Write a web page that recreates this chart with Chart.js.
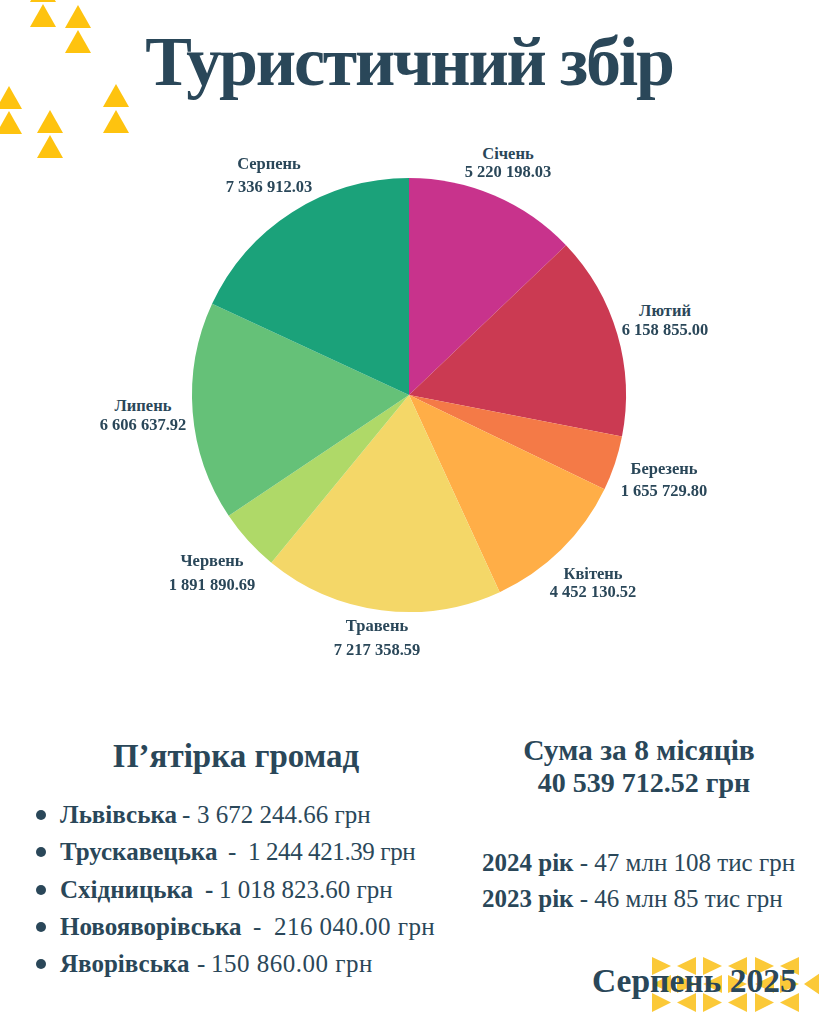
<!DOCTYPE html>
<html lang="uk">
<head>
<meta charset="utf-8">
<script src="https://cdn.jsdelivr.net/npm/chart.js@4"></script>
<style>
  html, body { margin: 0; padding: 0; background: #fff; }
  #page { position: relative; width: 819px; height: 1024px; overflow: hidden; color: #2a4759; font-family: "Liberation Serif", serif; }
  #chart-box { position: absolute; left: 179px; top: 165px; width: 460px; height: 460px; }
  .txt { position: absolute; white-space: pre; }
  .c { transform: translateX(-50%); text-align: center; }
  .lbl { font-size: 16.5px; font-weight: bold; line-height: 20px; }
  b { font-weight: bold; }
  .tri { position: absolute; background: #fec30f; }
</style>
</head>
<body>
<div id="page">
  <div id="decor"></div>
  <div class="txt c" style="left:409px;top:22px;font-size:70px;font-weight:bold;line-height:80px;letter-spacing:-2.2px">Туристичний збір</div>
  <div id="chart-box"><canvas id="canvas"></canvas></div>
  <div id="labels"></div>
  <div class="txt c" style="left:236px;top:737px;font-size:33px;font-weight:bold;line-height:38px">П’ятірка громад</div>
  <div class="txt c" style="left:639px;top:733px;font-size:29.5px;font-weight:bold;line-height:34px">Сума за 8 місяців</div>
  <div class="txt c" style="left:644px;top:766px;font-size:28px;font-weight:bold;line-height:34px">40 539 712.52 грн</div>
  <div id="towns"></div>
  <div id="years"></div>
  <div class="txt" style="left:592px;top:961px;font-size:33.5px;font-weight:bold;line-height:40px">Серпень 2025</div>
</div>
<script>
const months = ["Січень", "Лютий", "Березень", "Квітень", "Травень", "Червень", "Липень", "Серпень"]
const amounts = [5220198.03, 6158855.00, 1655729.80, 4452130.52, 7217358.59, 1891890.69, 6606637.92, 7336912.03]
const amountLabels = ["5 220 198.03", "6 158 855.00", "1 655 729.80", "4 452 130.52", "7 217 358.59", "1 891 890.69", "6 606 637.92", "7 336 912.03"]
const sliceColors = ["#c8338c", "#cb3a52", "#f47a47", "#ffae47", "#f4d768", "#afd968", "#65c178", "#1ba27a"]

const towns = ["Львівська", "Трускавецька", "Східницька", "Новояворівська", "Яворівська"]
const townDashes = ["-", "-", "-", "-", "-"]
const townValues = ["3 672 244.66 грн", "1 244 421.39 грн", "1 018 823.60 грн", "216 040.00 грн", "150 860.00 грн"]
const years = ["2024 рік", "2023 рік"]
const yearValues = ["- 47 млн 108 тис грн", "- 46 млн 85 тис грн"]

// centre x, y of first and second caption line
const labelSpots = [[508, 154, 172], [665, 311, 330], [664, 469, 491], [593, 574, 592], [377, 626, 650], [212, 561, 585], [143, 406, 425], [269, 164, 187]]
// x of dash, x of value, letter spacing of value
const townSpots = [[182, 197, 0], [228, 248, -0.4], [205, 219, 0], [253, 274, 0.45], [197, 211, 0.5]]
const upTriangles = [[30, -21], [30, 4], [65, 5], [65, 30], [-4, 86], [-4, 111], [37, 110], [37, 135], [103, 84], [103, 110]]

const labelsBox = document.getElementById("labels")
function addLabelLine(text, x, y) {
  const el = document.createElement("div")
  el.className = "txt c lbl"
  el.style.left = x + "px"
  el.style.top = (y - 10) + "px"
  el.textContent = text
  labelsBox.appendChild(el)
}
months.forEach((m, i) => {
  addLabelLine(m, labelSpots[i][0], labelSpots[i][1])
  addLabelLine(amountLabels[i], labelSpots[i][0], labelSpots[i][2])
})

const townsBox = document.getElementById("towns")
function addTownText(html, x, y, extra) {
  const el = document.createElement("div")
  el.className = "txt"
  el.style.cssText = `left:${x}px;top:${y}px;font-size:25px;line-height:32px;${extra}`
  el.innerHTML = html
  townsBox.appendChild(el)
}
towns.forEach((t, i) => {
  const y = 799 + i * 37.3
  const dot = document.createElement("div")
  dot.style.cssText = `position:absolute;left:36px;top:${y + 11}px;width:10px;height:10px;border-radius:50%;background:#2a4759`
  townsBox.appendChild(dot)
  addTownText(`<b>${t}</b>`, 60, y, "")
  addTownText(i == 2 ? `<b>${townDashes[i]}</b>` : townDashes[i], townSpots[i][0], y, "")
  addTownText(townValues[i], townSpots[i][1], y, `letter-spacing:${townSpots[i][2]}px`)
})

const yearsBox = document.getElementById("years")
years.forEach((y, i) => {
  const el = document.createElement("div")
  el.className = "txt"
  el.style.cssText = `left:482px;top:${847 + i * 36}px;font-size:25px;line-height:32px`
  el.innerHTML = `<b>${y}</b> ${yearValues[i]}`
  yearsBox.appendChild(el)
})

const decor = document.getElementById("decor")
function addTriangle(x, y, w, h, path, color) {
  const el = document.createElement("div")
  el.className = "tri"
  el.style.cssText = `left:${x}px;top:${y}px;width:${w}px;height:${h}px;clip-path:${path};background:${color}`
  decor.appendChild(el)
}
upTriangles.forEach(p => addTriangle(p[0], p[1], 26, 23, "polygon(50% 0,100% 100%,0 100%)", "#fec30f"))

const toRight = "polygon(0 0,100% 50%,0 100%)"
const toLeft = "polygon(100% 0,0 50%,100% 100%)"
const bandColor = "#fbc938"
const bandColumns = [652, 677, 703, 728, 755, 780]
bandColumns.forEach((x, i) => {
  addTriangle(x, 957, 19, 18, i % 2 ? toLeft : toRight, bandColor)
  addTriangle(x, 975, 19, 18, i % 2 ? toRight : toLeft, bandColor)
  addTriangle(x, 993, 19, 19, i % 2 ? toLeft : toRight, bandColor)
})
addTriangle(804, 973, 16, 22, toLeft, bandColor)

new Chart(document.getElementById("canvas"), {
  type: "pie",
  data: {
    labels: months,
    datasets: [{
      data: amounts,
      backgroundColor: sliceColors,
      borderWidth: 0,
      radius: 217
    }]
  },
  options: {
    responsive: true,
    maintainAspectRatio: false,
    animation: false,
    plugins: {
      legend: { display: false },
      tooltip: { enabled: false }
    }
  }
})
</script>
</body>
</html>
